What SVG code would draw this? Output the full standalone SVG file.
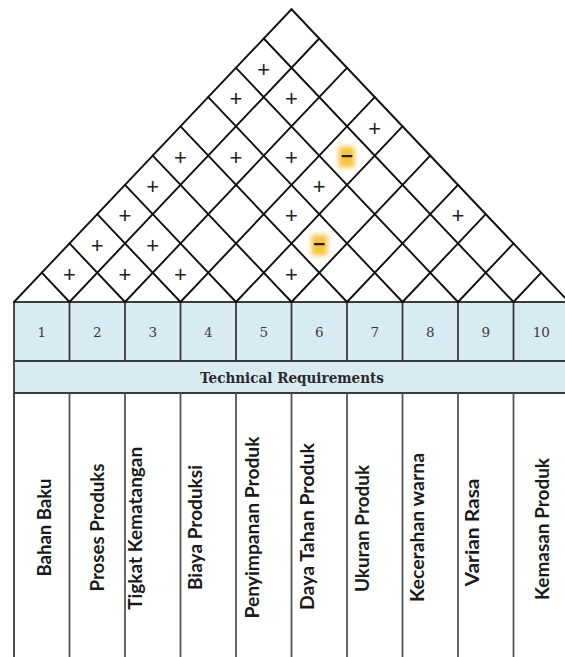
<svg xmlns="http://www.w3.org/2000/svg" width="565" height="657" viewBox="0 0 565 657">
<style>
.roof{stroke:#111;stroke-width:1.9;fill:none;stroke-linecap:round}
.grid{stroke:#3a3a3a;stroke-width:1.8;fill:none}
.hdr{fill:#d8eaf2}
.num{font-family:"DejaVu Serif","Liberation Serif",serif;font-size:13.5px;fill:#3a3a3a;text-anchor:middle}
.tr{font-family:"DejaVu Serif","Liberation Serif",serif;font-size:14px;font-weight:bold;fill:#2a2a2a;text-anchor:middle}
.lbl{font-family:Lato,"Open Sans",sans-serif;font-size:19.5px;font-weight:bold;fill:#1a1a1a;text-anchor:middle}
.plus{font-family:"Liberation Sans",Arial,sans-serif;font-size:22px;fill:#222;text-anchor:middle}
.minus{font-family:"Liberation Sans",Arial,sans-serif;font-size:21px;font-weight:bold;fill:#2b1d0a;text-anchor:middle}
.glow{fill:#f5c443;filter:url(#blur)}
</style>
<defs>
<filter id="blur" x="-50%" y="-50%" width="200%" height="200%"><feGaussianBlur stdDeviation="2.6"/></filter>
</defs>
<rect x="0" y="0" width="565" height="657" fill="#fff"/>
<g id="table">
<rect class="hdr" x="14" y="302" width="555" height="91"/>
<g class="grid">
<line x1="14" y1="302" x2="569" y2="302"/>
<line x1="14" y1="361" x2="569" y2="361"/>
<line x1="14" y1="393" x2="569" y2="393"/>
<line x1="14" y1="302" x2="14" y2="657"/>
<path d="M69.5 302V361M125 302V361M180.5 302V361M236 302V361M291.5 302V361M347 302V361M402.5 302V361M458 302V361M513.5 302V361"/>
<path d="M69.5 393V657M125 393V657M180.5 393V657M236 393V657M291.5 393V657M347 393V657M402.5 393V657M458 393V657M513.5 393V657" stroke="#555"/>
</g>
</g>
<g id="roof" class="roof">
<line x1="14" y1="302" x2="291.5" y2="9.24"/>
<line x1="69.5" y1="302" x2="319.25" y2="38.51"/>
<line x1="125" y1="302" x2="347" y2="67.79"/>
<line x1="180.5" y1="302" x2="374.75" y2="97.07"/>
<line x1="236" y1="302" x2="402.5" y2="126.34"/>
<line x1="291.5" y1="302" x2="430.25" y2="155.62"/>
<line x1="347" y1="302" x2="458" y2="184.89"/>
<line x1="402.5" y1="302" x2="485.75" y2="214.17"/>
<line x1="458" y1="302" x2="513.5" y2="243.45"/>
<line x1="513.5" y1="302" x2="541.25" y2="272.72"/>
<line x1="69.5" y1="302" x2="41.75" y2="272.72"/>
<line x1="125" y1="302" x2="69.5" y2="243.45"/>
<line x1="180.5" y1="302" x2="97.25" y2="214.17"/>
<line x1="236" y1="302" x2="125" y2="184.89"/>
<line x1="291.5" y1="302" x2="152.75" y2="155.62"/>
<line x1="347" y1="302" x2="180.5" y2="126.34"/>
<line x1="402.5" y1="302" x2="208.25" y2="97.07"/>
<line x1="458" y1="302" x2="236" y2="67.79"/>
<line x1="513.5" y1="302" x2="263.75" y2="38.51"/>
<line x1="569" y1="302" x2="291.5" y2="9.24"/>
</g>
<g id="correlations">
<rect class="glow" x="338.5" y="146.5" width="16" height="21"/>
<rect class="glow" x="311.5" y="234.5" width="16" height="21"/>
<text class="plus" x="263.75" y="77">+</text>
<text class="plus" x="236" y="106.3">+</text>
<text class="plus" x="291.5" y="106.3">+</text>
<text class="plus" x="374.75" y="135.5">+</text>
<text class="plus" x="180.5" y="164.8">+</text>
<text class="plus" x="236" y="164.8">+</text>
<text class="plus" x="291.5" y="164.8">+</text>
<text class="minus" x="347" y="163">−</text>
<text class="plus" x="152.75" y="194.1">+</text>
<text class="plus" x="319.25" y="194.1">+</text>
<text class="plus" x="125" y="223.4">+</text>
<text class="plus" x="291.5" y="223.4">+</text>
<text class="plus" x="458" y="223.4">+</text>
<text class="plus" x="97.25" y="252.6">+</text>
<text class="plus" x="152.75" y="252.6">+</text>
<text class="minus" x="319.25" y="250.8">−</text>
<text class="plus" x="69.5" y="281.9">+</text>
<text class="plus" x="125" y="281.9">+</text>
<text class="plus" x="180.5" y="281.9">+</text>
<text class="plus" x="291.5" y="281.9">+</text>
</g>
<g id="numbers">
<text class="num" x="41.75" y="337">1</text>
<text class="num" x="97.25" y="337">2</text>
<text class="num" x="152.75" y="337">3</text>
<text class="num" x="208.25" y="337">4</text>
<text class="num" x="263.75" y="337">5</text>
<text class="num" x="319.25" y="337">6</text>
<text class="num" x="374.75" y="337">7</text>
<text class="num" x="430.25" y="337">8</text>
<text class="num" x="485.75" y="337">9</text>
<text class="num" x="541.25" y="337">10</text>
</g>
<g id="header">
<text class="tr" x="292" y="382.5" textLength="184" lengthAdjust="spacingAndGlyphs">Technical Requirements</text>
</g>
<g id="labels">
<text class="lbl" transform="translate(50.5 527.5) rotate(-90)" textLength="98" lengthAdjust="spacingAndGlyphs">Bahan Baku</text>
<text class="lbl" transform="translate(104 527.5) rotate(-90)" textLength="128" lengthAdjust="spacingAndGlyphs">Proses Produks</text>
<text class="lbl" transform="translate(142 528.3) rotate(-90)" textLength="163" lengthAdjust="spacingAndGlyphs">Tigkat Kematangan</text>
<text class="lbl" transform="translate(202 527.5) rotate(-90)" textLength="125" lengthAdjust="spacingAndGlyphs">Biaya Produksi</text>
<text class="lbl" transform="translate(259 527.5) rotate(-90)" textLength="182" lengthAdjust="spacingAndGlyphs">Penyimpanan Produk</text>
<text class="lbl" transform="translate(314 526.5) rotate(-90)" textLength="167" lengthAdjust="spacingAndGlyphs">Daya Tahan Produk</text>
<text class="lbl" transform="translate(369 528.5) rotate(-90)" textLength="127" lengthAdjust="spacingAndGlyphs">Ukuran Produk</text>
<text class="lbl" transform="translate(424 527.5) rotate(-90)" textLength="149" lengthAdjust="spacingAndGlyphs">Kecerahan warna</text>
<text class="lbl" transform="translate(479 532.5) rotate(-90)" textLength="108" lengthAdjust="spacingAndGlyphs">Varian Rasa</text>
<text class="lbl" transform="translate(549 529) rotate(-90)" textLength="142" lengthAdjust="spacingAndGlyphs">Kemasan Produk</text>
</g>
</svg>
